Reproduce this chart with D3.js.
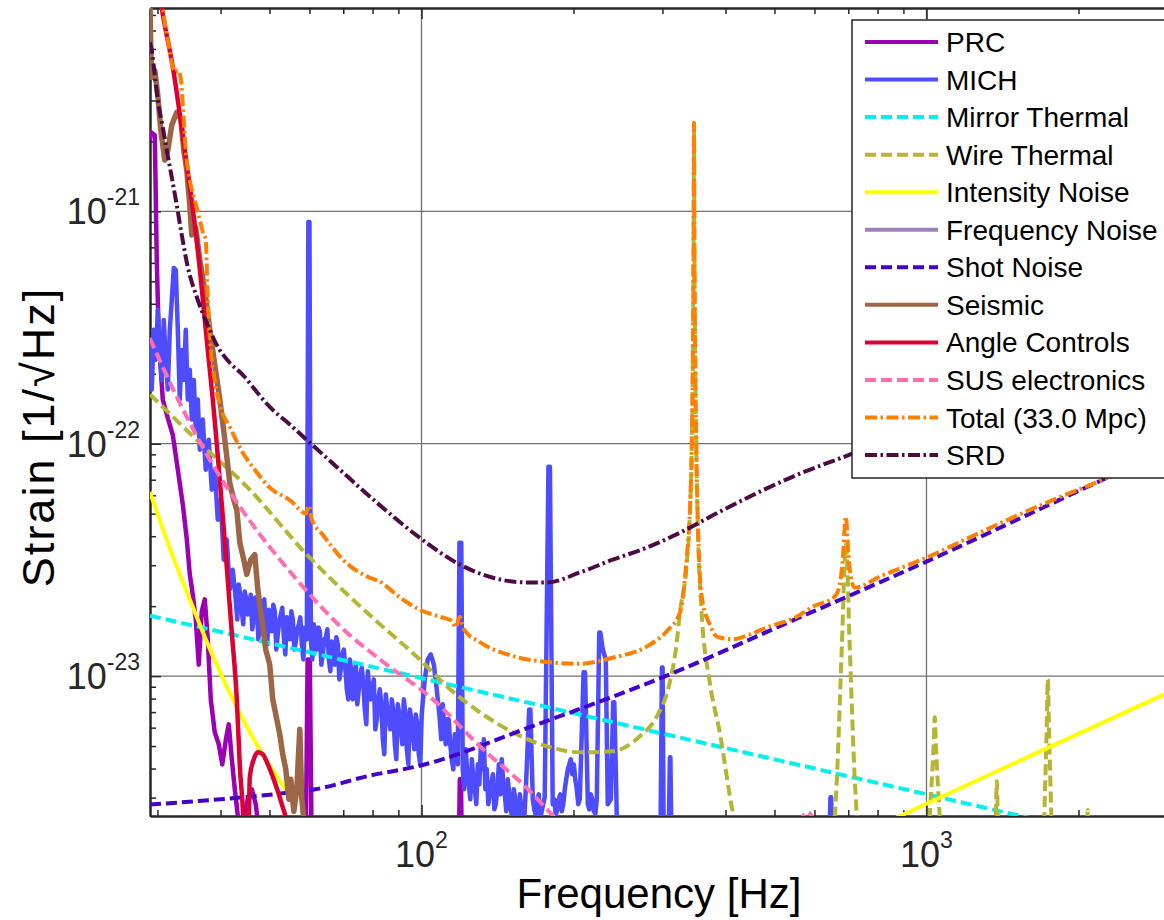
<!DOCTYPE html>
<html>
<head>
<meta charset="utf-8">
<script src="https://cdn.jsdelivr.net/npm/d3@7"></script>
<style>
  body { margin: 0; background: #fff; }
  text { font-family: "Liberation Sans", Arial, sans-serif; }
</style>
</head>
<body>
<div id="chart"></div>
<script>
// noise budget curves, [frequency Hz, strain 1/rtHz]
const prc = [[28.96, 2.02e-21], [29.09, 2.19e-21], [29.64, 2.13e-21], [29.91, 6.17e-22], [30.19, 2.80e-22], [30.74, 1.55e-22], [31.45, 1.29e-22], [32.18, 1.09e-22], [32.92, 7.73e-23], [33.68, 5.47e-23], [34.30, 3.87e-23], [34.77, 2.74e-23], [35.25, 2.24e-23], [35.73, 1.75e-23], [36.22, 1.12e-23], [36.72, 1.90e-23], [37.23, 2.14e-23], [37.74, 1.44e-23], [38.26, 7.94e-24], [38.96, 5.73e-24], [39.68, 5.09e-24], [40.32, 4.17e-24], [41.00, 5.35e-24], [41.53, 6.20e-24], [42.11, 4.39e-24], [42.69, 3.26e-24], [43.27, 2.52e-24], [43.87, 1.99e-24], [45.28, 2.95e-24], [46.13, 3.26e-24], [46.97, 2.81e-24], [47.62, 2.19e-24], [48.94, 1.48e-24], [58.9, 1.3e-24], [59.5, 1.18e-23], [60.1, 1.18e-23], [60.7, 1.3e-24], [118.3, 1.3e-24], [119.1, 3.6e-24], [119.7, 3.6e-24], [120.5, 1.3e-24], [3000, 1.3e-24]];

const mich = [[28.96, 2.80e-22], [29.23, 1.71e-22], [29.50, 3.09e-22], [29.77, 2.30e-22], [30.05, 3.76e-22], [30.32, 2.53e-22], [30.60, 1.88e-22], [30.88, 3.41e-22], [31.16, 2.30e-22], [31.45, 1.71e-22], [31.74, 3.09e-22], [32.03, 4.16e-22], [32.32, 5.71e-22], [32.62, 5.59e-22], [32.92, 3.09e-22], [33.22, 1.55e-22], [33.52, 2.53e-22], [33.83, 1.88e-22], [34.14, 3.09e-22], [34.45, 1.55e-22], [34.77, 2.08e-22], [35.09, 1.27e-22], [35.41, 1.88e-22], [35.73, 1.15e-22], [36.06, 1.55e-22], [36.39, 9.42e-23], [36.89, 1.27e-22], [37.39, 7.73e-23], [37.91, 1.04e-22], [38.43, 6.34e-23], [38.96, 7.73e-23], [39.50, 4.71e-23], [40.04, 5.74e-23], [40.59, 3.17e-23], [41.15, 3.87e-23], [41.72, 2.36e-23], [42.29, 2.87e-23],
    [42.87, 2.14e-23], [43.17, 1.75e-23], [43.46, 2.48e-23], [43.76, 2.24e-23], [44.06, 1.93e-23], [44.36, 1.67e-23], [44.67, 2.31e-23], [44.98, 2.14e-23], [45.28, 1.84e-23], [45.59, 2.03e-23], [45.91, 2.24e-23], [46.23, 1.59e-23], [46.54, 1.75e-23], [46.86, 2.18e-23], [47.19, 2.14e-23], [47.52, 1.44e-23], [47.84, 1.67e-23], [48.17, 1.90e-23], [48.50, 2.03e-23], [48.83, 2.14e-23], [49.16, 1.62e-23], [49.50, 1.37e-23], [49.84, 1.93e-23], [50.18, 1.75e-23], [50.53, 1.56e-23], [50.88, 2.03e-23], [51.23, 1.90e-23], [51.58, 1.30e-23], [51.93, 1.51e-23], [52.29, 1.72e-23], [52.65, 1.84e-23], [53.01, 1.97e-23], [53.38, 1.47e-23], [53.75, 1.24e-23], [54.11, 1.79e-23], [54.48, 1.62e-23], [54.86, 1.44e-23], [55.24, 1.90e-23], [55.62, 1.75e-23], [56.00, 1.30e-23], [56.38, 1.41e-23], [56.77, 1.59e-23], [57.16, 1.67e-23], [57.55, 1.79e-23], [57.95, 1.37e-23], [58.35, 1.18e-23], [58.75, 1.62e-23], [59.29, 1.44e-23],
    [59.7, 8.99e-22], [60.0, 8.99e-22],
    [60.38, 1.44e-23], [60.80, 1.18e-23], [61.21, 1.67e-23], [61.63, 1.44e-23], [62.05, 1.30e-23], [62.48, 1.62e-23], [62.91, 1.56e-23], [63.34, 1.12e-23], [63.77, 1.24e-23], [64.21, 1.44e-23], [64.66, 1.47e-23], [65.10, 1.59e-23], [65.55, 1.18e-23], [66.00, 1.05e-23], [66.45, 1.41e-23], [66.91, 1.30e-23], [67.36, 1.12e-23], [67.82, 1.47e-23], [68.29, 1.37e-23], [68.76, 9.68e-24], [69.23, 1.07e-23], [69.71, 1.24e-23], [70.18, 1.30e-23], [70.66, 1.09e-23], [71.15, 8.77e-24], [71.64, 7.94e-24], [72.12, 1.18e-23], [72.62, 1.05e-23], [73.12, 7.94e-24], [73.62, 9.68e-24], [74.12, 1.12e-23], [74.63, 7.56e-24], [75.14, 8.77e-24], [75.66, 1.02e-23], [76.18, 1.09e-23], [76.70, 9.21e-24], [77.22, 7.19e-24], [77.75, 6.20e-24], [78.29, 1.05e-23], [78.83, 8.77e-24], [79.36, 7.94e-24], [79.91, 8.94e-24], [80.46, 9.68e-24], [81.01, 5.90e-24], [81.56, 6.52e-24], [82.12, 7.94e-24], [82.69, 8.77e-24], [83.26, 7.56e-24], [83.83, 5.35e-24], [84.41, 4.61e-24], [84.98, 8.34e-24], [85.57, 7.19e-24], [86.16, 6.52e-24], [86.75, 5.90e-24], [87.34, 7.94e-24], [87.94, 7.05e-24], [88.55, 5.09e-24], [89.16, 4.39e-24], [89.77, 7.56e-24], [90.39, 6.84e-24], [91.01, 5.90e-24], [91.64, 5.09e-24], [92.26, 7.94e-24], [92.90, 6.84e-24], [93.53, 4.84e-24], [94.18, 4.17e-24], [94.82, 7.19e-24], [95.47, 6.52e-24], [96.13, 5.62e-24], [96.79, 4.84e-24], [97.43, 6.84e-24], [98.10, 6.20e-24], [98.77, 4.61e-24], [99.45, 4.17e-24], [100.1, 6.84e-24],
    [101.5, 9.68e-24], [102.9, 1.18e-23], [104.3, 1.24e-23], [105.8, 1.12e-23], [107.2, 8.77e-24], [108.7, 6.52e-24], [109.4, 5.35e-24], [110.2, 7.56e-24], [111.0, 5.90e-24], [111.7, 5.09e-24], [112.5, 6.52e-24], [113.2, 6.52e-24], [114.0, 5.09e-24], [114.8, 4.39e-24], [115.6, 3.97e-24], [116.4, 5.62e-24], [117.2, 4.84e-24], [118.0, 4.17e-24],
    [118.9, 3.75e-23], [119.9, 3.75e-23],
    [120.7, 3.97e-24], [121.5, 3.26e-24], [122.4, 4.84e-24], [123.2, 3.78e-24], [124.1, 3.42e-24], [124.9, 2.95e-24], [125.8, 4.39e-24], [126.7, 3.60e-24], [127.5, 3.26e-24], [128.4, 2.81e-24], [129.3, 4.17e-24], [130.2, 3.42e-24], [131.1, 5.09e-24], [132.0, 3.97e-24], [132.9, 5.35e-24], [133.8, 3.26e-24], [134.7, 3.97e-24], [135.6, 2.81e-24], [136.6, 3.10e-24], [137.5, 3.42e-24], [138.5, 3.78e-24], [139.4, 2.67e-24], [140.3, 2.81e-24], [141.3, 3.26e-24], [142.3, 4.17e-24], [143.3, 3.10e-24], [144.2, 4.39e-24], [145.2, 3.42e-24], [146.2, 3.10e-24], [147.2, 2.62e-24], [148.2, 3.60e-24], [149.2, 3.10e-24], [150.3, 2.67e-24], [151.3, 2.42e-24], [152.3, 3.26e-24], [153.4, 2.95e-24], [154.4, 2.52e-24], [155.5, 2.31e-24], [156.6, 3.10e-24], [157.6, 2.73e-24], [158.7, 2.62e-24], [159.8, 2.42e-24], [160.9, 3.26e-24],
    [163.4, 7.19e-24], [164.3, 7.19e-24],
    [166.1, 2.95e-24], [167.2, 2.67e-24], [168.4, 2.52e-24], [169.5, 2.95e-24], [170.7, 3.10e-24], [171.9, 2.42e-24], [173.0, 2.62e-24], [174.2, 2.81e-24], [175.4, 3.01e-24],
    [178.4, 7.96e-23], [179.6, 7.96e-23],
    [181.9, 2.81e-24], [183.2, 2.95e-24], [184.5, 2.52e-24], [185.7, 2.67e-24], [187.0, 2.95e-24], [188.3, 3.10e-24], [189.6, 2.62e-24], [190.9, 2.81e-24], [192.2, 3.26e-24], [193.5, 3.60e-24], [194.9, 3.97e-24], [196.2, 4.17e-24], [197.5, 4.39e-24], [198.9, 3.78e-24], [200.3, 4.17e-24], [201.6, 3.60e-24], [203.0, 3.26e-24], [204.4, 2.81e-24], [205.8, 2.95e-24],
    [209.4, 1.04e-23], [210.8, 1.04e-23],
    [213.5, 2.81e-24], [214.9, 2.67e-24], [216.4, 3.10e-24], [217.9, 2.95e-24], [219.4, 2.62e-24], [220.9, 2.55e-24], [222.4, 2.95e-24],
    [224.9, 1.54e-23], [226.0, 1.54e-23], [228.6, 1.30e-23], [231.7, 1.18e-23], [233.8, 2.81e-24], [237.1, 2.95e-24], [239.7, 7.71e-24], [240.9, 7.71e-24], [243.6, 2.52e-24], [246.9, 2.19e-24], [290, 1.5e-24], [297, 1.5e-24], [299.3, 1.09e-23], [300.2, 1.09e-23], [302, 1.5e-24], [308, 1.5e-24], [310.4, 4.47e-24], [311.1, 4.47e-24], [313, 1.5e-24], [640, 1.5e-24], [645.5, 3.01e-24], [647.5, 3.01e-24], [650, 1.5e-24], [3000, 1.5e-24]];

const mirrorThermal = [[29, 1.82e-23], [100, 9.8e-24], [1000, 3.1e-24], [3000, 1.79e-24]];

const wireThermal = [[29, 1.63e-22], [37.6, 9.43e-23], [45.1, 6.53e-23], [59.3, 3.33e-23], [81.5, 1.72e-23], [99.2, 1.18e-23], [112.2, 9.04e-24], [130.5, 6.99e-24], [151.6, 5.73e-24], [177, 4.99e-24], [205.8, 4.70e-24], [239.2, 4.75e-24], [270.6, 5.51e-24], [292.4, 6.71e-24], [310.2, 9.4e-24], [320.3, 1.40e-23], [324.8, 1.87e-23], [335, 3.0e-23], [340, 5.0e-23], [343, 1.0e-22], [345, 3.0e-22], [346, 1.0e-21], [346.4, 2.4e-21], [346.8, 1.0e-21], [348, 3.0e-22], [350, 1.0e-22], [353, 4.0e-23], [358, 2.0e-23], [372.3, 9.4e-24], [389.6, 5.73e-24], [413.4, 2.6e-24], [450, 1.5e-24], [600, 1.3e-24], [640, 1.5e-24], [664.5, 3.6e-24], [679.8, 1.34e-23], [692.8, 3.68e-23], [704.7, 1.34e-23], [721, 3.6e-24], [750, 1.5e-24], [1000, 1.2e-24], [1015, 2.5e-24], [1033, 5.0e-24], [1038.5, 6.65e-24], [1044, 5.0e-24], [1062, 2.5e-24], [1080, 1.2e-24], [1360, 1.5e-24], [1372, 2.5e-24], [1378, 3.53e-24], [1384, 2.5e-24], [1396, 1.5e-24], [1700, 1.5e-24], [1712, 2.6e-24], [1730, 6.0e-24], [1739, 9.68e-24], [1748, 6.0e-24], [1766, 2.6e-24], [1780, 1.5e-24], [2075, 1.8e-24], [2086, 2.65e-24], [2097, 1.8e-24], [3000, 1.5e-24]];

const intensityNoise = [[29, 6.2e-23], [31.7, 3.57e-23], [34.8, 2.13e-23], [37.6, 1.40e-23], [42.3, 7.94e-24], [47.8, 4.84e-24], [54.1, 3.2e-24], [54.2, null], [850, 2.4e-24], [893, 2.52e-24], [3000, 8.47e-24]];

const frequencyNoise = [[29, 2.0e-25], [3000, 1.0e-24]];

const shotNoise = [[29, 2.80e-24], [39.9, 2.95e-24], [53.1, 3.13e-24], [61.7, 3.26e-24], [78.2, 3.71e-24], [100, 4.13e-24], [163.9, 6.03e-24], [320.3, 1.047e-23], [512, 1.64e-23], [1000, 3.11e-23], [2234, 7.0e-23], [3000, 9.4e-23]];

const seismic = [[28.96, 9.5e-21], [29.09, 5.44e-21], [29.23, 3.77e-21], [29.64, 4.04e-21], [30.05, 3.16e-21], [30.47, 2.23e-21], [31.02, 1.66e-21], [31.45, 1.83e-21], [32.03, 2.35e-21], [32.77, 2.67e-21], [33.37, 2.51e-21], [33.83, 1.83e-21], [34.30, 1.50e-21], [34.77, 1.06e-21], [35.09, 7.91e-22], [35.73, 8.48e-22], [36.39, 6.18e-22], [37.23, 4.59e-22], [38.09, 3.09e-22], [38.96, 2.19e-22], [39.87, 1.55e-22], [40.79, 1.04e-22], [41.72, 6.79e-23], [42.48, 5.74e-23], [43.08, 5.20e-23], [43.68, 3.75e-23], [44.47, 3.17e-23], [45.09, 2.74e-23], [45.91, 3.17e-23], [46.76, 3.33e-23], [47.41, 2.36e-23], [48.28, 1.75e-23], [49.16, 1.30e-23], [50.07, 1.12e-23], [50.75, 7.94e-24], [51.69, 6.52e-24], [52.40, 5.62e-24], [53.12, 4.61e-24], [53.86, 3.97e-24], [54.61, 2.95e-24], [55.11, 3.60e-24], [55.87, 2.62e-24], [56.64, 3.26e-24], [57.41, 5.90e-24], [57.95, 2.95e-24], [58.75, 2.19e-24], [60.10, 1.3e-24], [80, 6e-25]];

const angleControls = [[28.96, 1.86e-20], [30.6, 7.48e-21], [32.18, 4.17e-21], [33.99, 1.83e-21], [36.06, 6.82e-22], [37.74, 2.53e-22], [38.61, 1.55e-22], [41.15, 2.96e-23], [42.11, 1.54e-23], [43.08, 7.94e-24], [43.68, 4.09e-24], [44.47, 2.19e-24], [44.9, 1.0e-24], [45.2, 1.0e-24], [45.71, 3.67e-24], [46.54, 4.38e-24], [47.41, 4.70e-24], [48.50, 4.61e-24], [49.61, 4.18e-24], [51.22, 3.49e-24], [52.89, 2.81e-24], [54.36, 2.19e-24], [56, 1.0e-24], [70, 3e-25]];

const susElectronics = [[28.96, 2.85e-22], [32.77, 1.59e-22], [38.61, 8.12e-23], [45.09, 4.86e-23], [56.64, 2.60e-23], [71.15, 1.54e-23], [82.69, 1.18e-23], [105.3, 7.94e-24], [130.5, 4.99e-24], [163.9, 3.20e-24], [181.9, 2.52e-24], [205.8, 1.99e-24], [300, 1.6e-24], [520, 1.7e-24], [582, 2.6e-24], [640, 1.7e-24], [3000, 1.2e-24]];

const total = [[29, 2.0e-20], [30.46, 8.93e-21], [30.74, 7.48e-21], [31.45, 5.44e-21], [32.18, 4.17e-21], [32.62, 3.97e-21], [32.92, 4.05e-21], [33.37, 3.74e-21], [33.68, 2.86e-21], [34.14, 1.83e-21], [34.77, 1.36e-21], [35.57, 1.12e-21], [36.39, 9.18e-22], [36.89, 8.15e-22], [37.39, 7.53e-22], [37.74, 4.16e-22], [38.26, 2.53e-22], [38.96, 1.88e-22], [39.86, 1.47e-22], [41.72, 1.18e-22], [44.27, 9.15e-23], [46.77, 7.73e-23], [50.07, 6.47e-23], [55.37, 5.63e-23], [57.41, 5.20e-23], [59.02, 5.00e-23], [59.82, 5.42e-23], [60.65, 4.71e-23], [63.77, 4.06e-23], [69.87, 3.17e-23], [79.0, 2.65e-23], [82.69, 2.55e-23], [90.58, 2.18e-23], [99.23, 1.93e-23], [108.7, 1.80e-23], [114.8, 1.73e-23], [116.9, 1.62e-23], [119.1, 1.80e-23], [121.3, 1.59e-23], [130.5, 1.40e-23], [151.6, 1.22e-23], [177.0, 1.15e-23], [205.8, 1.13e-23], [239.2, 1.20e-23], [279.3, 1.34e-23], [305.9, 1.56e-23], [324.8, 1.87e-23], [335, 3.2e-23], [340, 5.2e-23], [343, 1.0e-22], [345, 3.0e-22], [346, 1.0e-21], [346.4, 2.4e-21], [346.8, 1.0e-21], [348, 3.0e-22], [350, 1.0e-22], [353, 4.2e-23], [359.5, 2.14e-23], [372.3, 1.67e-23], [384.5, 1.48e-23], [413.4, 1.44e-23], [446.8, 1.51e-23], [482.8, 1.62e-23], [553.5, 1.80e-23], [595.5, 1.99e-23], [658.2, 2.20e-23], [673.4, 2.48e-23], [682.7, 3.17e-23], [692.0, 4.86e-23], [701.7, 3.17e-23], [711.3, 2.55e-23], [721.1, 2.40e-23], [808.2, 2.68e-23], [1000.9, 3.24e-23], [1275, 4.14e-23], [1730, 5.58e-23], [2234, 7.0e-23], [3000, 9.4e-23]];

const srd = [[28.96, 5.34e-21], [29.23, 4.93e-21], [29.64, 3.85e-21], [30.05, 3.01e-21], [30.74, 2.30e-21], [31.31, 1.83e-21], [32.03, 1.40e-21], [32.77, 1.06e-21], [33.52, 7.91e-22], [34.45, 5.76e-22], [35.89, 4.28e-22], [37.57, 3.31e-22], [39.32, 2.66e-22], [41.72, 2.23e-22], [44.27, 1.98e-22], [47.19, 1.67e-22], [50.07, 1.44e-22], [54.86, 1.21e-22], [60.10, 1.01e-22], [68.92, 7.73e-23], [81.56, 5.58e-23], [99.2, 3.94e-23], [119.1, 3.02e-23], [138.5, 2.65e-23], [161.6, 2.53e-23], [177.0, 2.53e-23], [205.8, 2.79e-23], [239.2, 3.17e-23], [279.3, 3.57e-23], [324.8, 4.14e-23], [389.7, 5.10e-23], [467.8, 6.22e-23], [561.2, 7.43e-23], [704.9, 8.97e-23], [1000, 1.21e-22], [3000, 3.0e-22]];

const seriesNames = ["PRC", "MICH", "Mirror Thermal", "Wire Thermal", "Intensity Noise", "Frequency Noise", "Shot Noise", "Seismic", "Angle Controls", "SUS electronics", "Total (33.0 Mpc)", "SRD"];
const xTickExponents = [2, 3];
const yTickExponents = [-23, -22, -21];

// styles, same order as the names
const solid = null, dashed = "11,5", dashDot = "12,3.5,2.5,3.5";
const styles = [
    { color: "#9A00B4", dash: solid, width: 4.5, curve: d3.curveLinear },
    { color: "#4D4DFF", dash: solid, width: 4.5, curve: d3.curveLinear },
    { color: "#00F0F0", dash: dashed, width: 4, curve: d3.curveMonotoneX },
    { color: "#B5B534", dash: dashed, width: 4, curve: d3.curveMonotoneX },
    { color: "#FFFF00", dash: solid, width: 4, curve: d3.curveMonotoneX },
    { color: "#9B80B8", dash: solid, width: 4, curve: d3.curveLinear },
    { color: "#4400CC", dash: dashed, width: 4, curve: d3.curveMonotoneX },
    { color: "#9C6647", dash: solid, width: 5.5, curve: d3.curveLinear },
    { color: "#DD0030", dash: solid, width: 4.5, curve: d3.curveMonotoneX },
    { color: "#FF6EB4", dash: dashed, width: 4, curve: d3.curveMonotoneX },
    { color: "#FF8000", dash: dashDot, width: 4, curve: d3.curveMonotoneX },
    { color: "#4D0A45", dash: dashDot, width: 4, curve: d3.curveMonotoneX }
];
const seriesData = [prc, mich, mirrorThermal, wireThermal, intensityNoise, frequencyNoise,
    shotNoise, seismic, angleControls, susElectronics, total, srd];

const width = 1164, height = 920;
const plotLeft = 150, plotTop = 8, plotBottom = 816;
const plotRight = plotLeft + 505 * Math.log10(3000 / 29);
const axisColor = "#262626";

const svg = d3.select("#chart")
    .append("svg")
    .attr("width", width)
    .attr("height", height)
    .style("background", "#fff");

const x = d3.scaleLog().domain([29, 3000]).range([plotLeft, plotRight]);
const y = d3.scaleLog().domain([2.5e-24, 7.5e-21]).range([plotBottom, plotTop]);

// grid on the decades
svg.append("g")
    .selectAll("line")
    .data(xTickExponents)
    .join("line")
    .attr("x1", d => x(10 ** d)).attr("x2", d => x(10 ** d))
    .attr("y1", plotTop).attr("y2", plotBottom)
    .attr("stroke", "#707070").attr("stroke-width", 1.3);

svg.append("g")
    .selectAll("line")
    .data(yTickExponents)
    .join("line")
    .attr("y1", d => y(10 ** d)).attr("y2", d => y(10 ** d))
    .attr("x1", plotLeft).attr("x2", plotRight)
    .attr("stroke", "#707070").attr("stroke-width", 1.3);

// axes (ticks point inwards)
const isDecade = v => Math.abs(Math.log10(v) - Math.round(Math.log10(v))) < 1e-6;
const xMinor = x.ticks().filter(v => !isDecade(v));
const yMinor = y.ticks().filter(v => !isDecade(v));
const xMajor = xTickExponents.map(e => 10 ** e);
const yMajor = yTickExponents.map(e => 10 ** e);

function styleAxis(g) {
    g.selectAll("text").remove();
    g.selectAll("path.domain").attr("stroke", axisColor).attr("stroke-width", 2);
    g.selectAll(".tick line").attr("stroke", axisColor).attr("stroke-width", 1.5);
}

[[d3.axisBottom, plotBottom], [d3.axisTop, plotTop]].forEach(([axisFn, pos]) => {
    svg.append("g").attr("transform", `translate(0,${pos})`)
        .call(axisFn(x).tickValues(xMinor).tickSize(-6).tickSizeOuter(0))
        .call(styleAxis);
    svg.append("g").attr("transform", `translate(0,${pos})`)
        .call(axisFn(x).tickValues(xMajor).tickSize(-11).tickSizeOuter(0))
        .call(styleAxis);
});

svg.append("g").attr("transform", `translate(${plotLeft},0)`)
    .call(d3.axisLeft(y).tickValues(yMinor).tickSize(-6).tickSizeOuter(0))
    .call(styleAxis);
svg.append("g").attr("transform", `translate(${plotLeft},0)`)
    .call(d3.axisLeft(y).tickValues(yMajor).tickSize(-11).tickSizeOuter(0))
    .call(styleAxis);

// tick labels 10^n
const xLabels = svg.append("g")
    .selectAll("text")
    .data(xTickExponents)
    .join("text")
    .attr("x", d => x(10 ** d))
    .attr("y", 867)
    .attr("text-anchor", "middle")
    .attr("fill", axisColor)
    .attr("font-size", 36);
xLabels.append("tspan").text("10");
xLabels.append("tspan").attr("font-size", 23).attr("dy", -19).text(d => d);

const yLabels = svg.append("g")
    .selectAll("text")
    .data(yTickExponents)
    .join("text")
    .attr("x", 140)
    .attr("y", d => y(10 ** d) + 13)
    .attr("text-anchor", "end")
    .attr("fill", axisColor)
    .attr("font-size", 36);
yLabels.append("tspan").text("10");
yLabels.append("tspan").attr("font-size", 23).attr("dy", -19).text(d => d);

// axis titles
svg.append("text")
    .attr("x", 659).attr("y", 908)
    .attr("text-anchor", "middle")
    .attr("font-size", 42)
    .text("Frequency [Hz]");

svg.append("text")
    .attr("transform", "translate(54,437) rotate(-90)")
    .attr("text-anchor", "middle")
    .attr("font-size", 45)
    .attr("letter-spacing", 2)
    .text("Strain [1/\u221AHz]");

// curves
svg.append("clipPath").attr("id", "plotClip")
    .append("rect")
    .attr("x", plotLeft).attr("y", plotTop)
    .attr("width", plotRight - plotLeft).attr("height", plotBottom - plotTop);

const plot = svg.append("g").attr("clip-path", "url(#plotClip)");

seriesData.forEach((data, i) => {
    const s = styles[i];
    const line = d3.line()
        .defined(d => d[1] != null)
        .x(d => x(d[0]))
        .y(d => y(d[1]))
        .curve(s.curve);
    plot.append("path")
        .datum(data)
        .attr("fill", "none")
        .attr("stroke", s.color)
        .attr("stroke-width", s.width)
        .attr("stroke-dasharray", s.dash)
        .attr("stroke-linejoin", "round")
        .attr("d", line);
});

// legend
const legend = svg.append("g");
legend.append("rect")
    .attr("x", 852).attr("y", 20)
    .attr("width", 340).attr("height", 458)
    .attr("fill", "#fff")
    .attr("stroke", axisColor)
    .attr("stroke-width", 1.5);

const rows = legend.selectAll("g.row")
    .data(seriesNames)
    .join("g")
    .attr("class", "row")
    .attr("transform", (d, i) => `translate(0,${42 + i * 37.55})`);

rows.append("line")
    .attr("x1", 865).attr("x2", 938)
    .attr("stroke", (d, i) => styles[i].color)
    .attr("stroke-width", 4)
    .attr("stroke-dasharray", (d, i) => styles[i].dash);

rows.append("text")
    .attr("x", 946)
    .attr("y", 10)
    .attr("font-size", 28)
    .text(d => d);
</script>
</body>
</html>
